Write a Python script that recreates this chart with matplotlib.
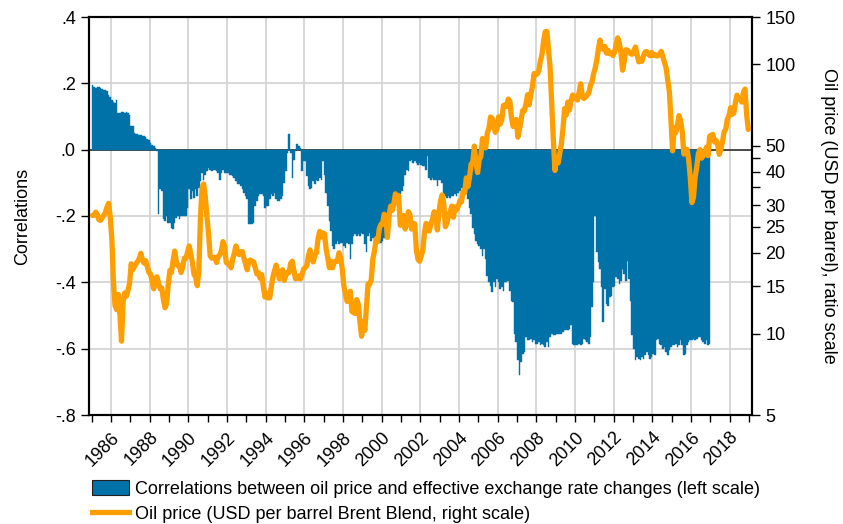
import numpy as np
import matplotlib
matplotlib.use("Agg")
import matplotlib.pyplot as plt
from matplotlib.patches import Patch
from matplotlib.lines import Line2D

plt.rcParams['font.family'] = ['Liberation Sans', 'DejaVu Sans']
plt.rcParams['font.size'] = 13

# 相关系数（月度，1985-01 至 2016-12），每行一年
corr = [
    0.195, 0.19, 0.185, 0.19, 0.188, 0.186, 0.183, 0.18, 0.18, 0.177, 0.165, 0.16,          # 1985
    0.15, 0.145, 0.14, 0.15, 0.11, 0.11, 0.115, 0.115, 0.11, 0.115, 0.11, 0.105,            # 1986
    0.07, 0.07, 0.05, 0.048, 0.046, 0.045, 0.044, 0.042, 0.04, 0.038, 0.033, 0.028,         # 1987
    0.02, 0.015, 0.01, 0.005, -0.005, -0.195, -0.12, -0.125, -0.21, -0.215, -0.2, -0.22,    # 1988
    -0.22, -0.235, -0.24, -0.22, -0.205, -0.2, -0.21, -0.2, -0.2, -0.2, -0.2, -0.175,       # 1989
    -0.12, -0.15, -0.125, -0.145, -0.12, -0.14, -0.115, -0.095, -0.07, -0.09, -0.075, -0.065,  # 1990
    -0.055, -0.06, -0.065, -0.06, -0.06, -0.065, -0.07, -0.09, -0.07, -0.06, -0.07, -0.07,  # 1991
    -0.07, -0.075, -0.075, -0.08, -0.085, -0.095, -0.105, -0.105, -0.11, -0.12, -0.13, -0.14,  # 1992
    -0.15, -0.225, -0.225, -0.225, -0.22, -0.17, -0.155, -0.14, -0.135, -0.135, -0.14, -0.175,  # 1993
    -0.17, -0.17, -0.15, -0.135, -0.14, -0.13, -0.15, -0.155, -0.155, -0.15, -0.14, -0.1,   # 1994
    -0.065, -0.01, 0.046, -0.01, -0.085, -0.03, -0.005, 0.016, 0.012, 0.005, -0.065, -0.035,  # 1995
    -0.035, -0.08, -0.11, -0.12, -0.115, -0.095, -0.105, -0.09, -0.095, -0.085, -0.09, -0.035,  # 1996
    -0.075, -0.13, -0.17, -0.215, -0.245, -0.29, -0.3, -0.285, -0.275, -0.285, -0.28, -0.28,  # 1997
    -0.29, -0.295, -0.28, -0.285, -0.33, -0.285, -0.26, -0.255, -0.26, -0.255, -0.26, -0.25,  # 1998
    -0.255, -0.285, -0.31, -0.26, -0.25, -0.275, -0.265, -0.27, -0.285, -0.275, -0.265, -0.28,  # 1999
    -0.275, -0.265, -0.24, -0.235, -0.21, -0.2, -0.185, -0.16, -0.16, -0.14, -0.135, -0.135,  # 2000
    -0.125, -0.11, -0.075, -0.06, -0.065, -0.035, -0.03, -0.04, -0.035, -0.04, -0.045, -0.04,  # 2001
    -0.045, -0.05, -0.05, -0.06, -0.02, -0.085, -0.09, -0.085, -0.09, -0.09, -0.11, -0.09,  # 2002
    -0.09, -0.1, -0.135, -0.14, -0.145, -0.14, -0.145, -0.14, -0.14, -0.135, -0.14, -0.13,  # 2003
    -0.125, -0.115, -0.115, -0.1, -0.09, -0.15, -0.175, -0.195, -0.235, -0.255, -0.275, -0.285,  # 2004
    -0.29, -0.3, -0.32, -0.3, -0.33, -0.38, -0.4, -0.41, -0.43, -0.4, -0.415, -0.39,        # 2005
    -0.4, -0.42, -0.415, -0.425, -0.4, -0.4, -0.395, -0.425, -0.455, -0.46, -0.555, -0.58,  # 2006
    -0.635, -0.68, -0.64, -0.615, -0.61, -0.565, -0.575, -0.575, -0.57, -0.58, -0.575, -0.585,  # 2007
    -0.585, -0.58, -0.59, -0.585, -0.59, -0.595, -0.58, -0.595, -0.565, -0.555, -0.56, -0.56,  # 2008
    -0.555, -0.555, -0.555, -0.555, -0.55, -0.545, -0.545, -0.545, -0.54, -0.53, -0.585, -0.59,  # 2009
    -0.59, -0.59, -0.585, -0.59, -0.585, -0.57, -0.575, -0.58, -0.585, -0.565, -0.475, -0.4,  # 2010
    -0.2, -0.31, -0.34, -0.36, -0.415, -0.52, -0.42, -0.465, -0.47, -0.445, -0.44, -0.415,  # 2011
    -0.41, -0.385, -0.39, -0.405, -0.395, -0.36, -0.375, -0.395, -0.335, -0.39, -0.455, -0.56,  # 2012
    -0.6, -0.635, -0.625, -0.63, -0.635, -0.625, -0.63, -0.62, -0.61, -0.62, -0.63, -0.625,  # 2013
    -0.615, -0.62, -0.575, -0.57, -0.585, -0.59, -0.6, -0.595, -0.61, -0.62, -0.605, -0.595,  # 2014
    -0.59, -0.59, -0.585, -0.595, -0.59, -0.575, -0.59, -0.62, -0.615, -0.59, -0.58, -0.575,  # 2015
    -0.575, -0.57, -0.575, -0.57, -0.565, -0.565, -0.575, -0.58, -0.585, -0.575, -0.59, -0.585,  # 2016
]

# 布伦特油价（美元/桶，月度，1985-01 至 2018-12）
oil = [
    27.5, 27.6, 28.3, 27.7, 26.5, 26.4, 27.0, 27.5, 28.3, 29.5, 30.5, 27.2,   # 1985
    22.5, 15.5, 12.7, 12.3, 14.0, 11.8, 9.4, 13.2, 14.2, 13.8, 14.5, 15.4,    # 1986
    18.2, 17.3, 17.8, 18.2, 18.6, 19.0, 19.9, 18.8, 18.3, 18.7, 17.8, 16.9,   # 1987
    16.7, 15.7, 14.7, 16.0, 16.3, 15.4, 14.7, 14.8, 13.4, 12.5, 13.0, 15.2,   # 1988
    17.2, 16.9, 18.7, 20.3, 18.6, 17.9, 17.9, 16.9, 17.7, 19.1, 19.1, 20.1,   # 1989
    21.2, 19.7, 18.4, 16.6, 16.3, 15.1, 17.2, 27.2, 34.9, 36.0, 32.3, 27.3,   # 1990
    23.6, 19.5, 19.1, 19.2, 19.2, 18.4, 19.4, 19.6, 20.4, 22.0, 21.1, 18.4,   # 1991
    18.2, 18.1, 17.6, 18.9, 19.9, 21.2, 20.2, 19.7, 20.2, 20.2, 19.1, 18.2,   # 1992
    17.3, 18.6, 18.8, 18.6, 18.5, 17.6, 16.7, 16.9, 16.1, 16.6, 15.0, 13.7,   # 1993
    14.2, 13.6, 13.6, 15.0, 16.3, 17.2, 18.0, 16.9, 16.0, 16.4, 17.3, 15.8,   # 1994
    16.5, 16.9, 16.9, 18.3, 18.6, 17.2, 16.0, 16.1, 16.4, 16.0, 16.6, 17.4,   # 1995
    17.6, 17.9, 19.5, 20.5, 19.0, 18.5, 19.6, 20.0, 22.6, 24.0, 22.9, 23.7,   # 1996
    23.5, 20.6, 19.2, 17.6, 18.6, 17.6, 18.5, 18.6, 18.6, 20.0, 19.2, 17.4,   # 1997
    15.1, 14.0, 13.2, 13.4, 14.4, 12.1, 12.0, 11.9, 13.4, 12.8, 11.0, 9.8,    # 1998
    11.1, 10.3, 12.5, 15.3, 15.3, 15.9, 19.0, 20.3, 22.5, 22.0, 24.6, 25.5,   # 1999
    25.5, 27.8, 27.5, 22.8, 27.3, 29.8, 28.7, 30.4, 33.1, 30.9, 32.6, 25.3,   # 2000
    25.9, 27.5, 24.5, 25.7, 28.4, 27.7, 24.5, 25.7, 25.6, 20.5, 18.9, 18.6,   # 2001
    19.5, 20.4, 23.7, 25.7, 25.4, 24.1, 25.7, 26.6, 28.4, 27.5, 24.3, 28.3,   # 2002
    31.2, 32.8, 30.4, 25.0, 25.8, 27.6, 28.4, 29.8, 27.1, 29.6, 28.8, 29.8,   # 2003
    31.2, 30.9, 33.8, 33.4, 37.9, 35.2, 38.2, 42.7, 43.2, 49.8, 43.1, 39.7,   # 2004
    44.3, 45.5, 53.1, 51.9, 49.0, 55.6, 57.9, 63.8, 63.1, 59.5, 56.0, 57.6,   # 2005
    63.9, 60.0, 62.3, 70.4, 70.8, 69.8, 74.4, 73.0, 63.8, 58.9, 59.1, 62.5,   # 2006
    53.7, 57.6, 62.1, 67.5, 67.2, 71.3, 77.2, 70.8, 77.2, 82.4, 92.5, 91.5,   # 2007
    92.2, 94.9, 103.4, 109.1, 122.8, 132.3, 132.7, 113.2, 97.2, 71.6, 52.5, 40.4,  # 2008
    44.9, 43.1, 46.8, 50.8, 57.9, 68.6, 64.9, 72.5, 67.7, 73.2, 77.0, 74.7,   # 2009
    76.2, 73.8, 78.8, 84.8, 75.9, 74.8, 75.6, 77.1, 78.2, 83.5, 86.1, 92.4,   # 2010
    96.9, 104.0, 114.4, 123.1, 114.5, 113.9, 116.7, 110.1, 112.8, 109.6, 110.5, 107.9,  # 2011
    110.7, 119.3, 125.5, 119.8, 110.3, 95.2, 102.6, 113.4, 113.0, 111.5, 109.5, 109.2,  # 2012
    112.3, 116.1, 108.5, 102.3, 102.6, 102.9, 107.9, 111.3, 111.6, 109.1, 107.8, 110.8,  # 2013
    108.1, 108.9, 107.5, 107.8, 109.5, 111.8, 106.8, 101.6, 97.1, 87.4, 79.4, 62.3,  # 2014
    47.8, 58.1, 55.9, 59.5, 64.6, 61.7, 56.5, 46.5, 47.6, 48.4, 44.3, 38.0,   # 2015
    30.7, 32.2, 38.2, 41.6, 46.7, 48.3, 44.9, 45.8, 46.6, 49.3, 45.9, 54.1,   # 2016
    54.6, 55.0, 51.6, 52.3, 50.3, 46.4, 48.5, 51.7, 56.2, 57.5, 62.7, 64.4,   # 2017
    69.1, 65.3, 66.0, 72.1, 76.9, 74.4, 74.3, 72.5, 78.9, 81.0, 64.8, 57.4,   # 2018
]

corr_start = 1985
oil_start = 1985
year_ticks = list(range(1986, 2019, 2))
left_ticks = [0.4, 0.2, 0.0, -0.2, -0.4, -0.6, -0.8]
right_ticks = [5, 10, 15, 20, 25, 30, 35, 40, 45, 50, 100, 150]
right_labels = ['5', '10', '15', '20', '25', '30', '', '40', '', '50', '100', '150']

bar_color = '#0072A7'
oil_color = '#FF9E00'

t_corr = corr_start + np.arange(len(corr)) / 12
t_oil = oil_start + (np.arange(len(oil)) + 0.5) / 12

fig = plt.figure(figsize=(8.43, 5.24), dpi=100)
ax = fig.add_axes([89 / 843, 1 - 415 / 524, (752 - 89) / 843, (415 - 17) / 524])

ax.bar(t_corr, corr, width=1 / 12, align='edge', color=bar_color,
       edgecolor=bar_color, linewidth=0.3, zorder=3)
ax.axhline(0, color='#333333', lw=1.2, zorder=2)

ax.set_xlim(1984.86, 2019.15)
ax.set_ylim(-0.8, 0.4)
ax.set_yticks(left_ticks)
ax.set_yticklabels([f"{v:.1f}".replace('0.', '.') for v in left_ticks])
ax.set_xticks(year_ticks)
ax.set_xticklabels([str(y) for y in year_ticks], rotation=45, ha='right',
                   rotation_mode='anchor')
ax.set_xticks(range(1985, 2020), minor=True)
ax.grid(True, which='major', color='#D4D4D4', lw=1.3, zorder=0)
ax.set_axisbelow(True)
ax.tick_params(axis='x', which='both', length=5, width=1, pad=5)
ax.tick_params(axis='y', length=6, width=1)
ax.set_ylabel('Correlations', labelpad=17)
for s in ax.spines.values():
    s.set_linewidth(1.5)

ax2 = ax.twinx()
ax2.plot(t_oil, oil, color=oil_color, lw=3.8, solid_capstyle='round',
         solid_joinstyle='round')
ax2.set_yscale('log')
ax2.set_ylim(5, 150)
ax2.set_yticks(right_ticks)
ax2.set_yticklabels(right_labels)
ax2.yaxis.set_minor_locator(matplotlib.ticker.NullLocator())
ax2.tick_params(axis='y', length=6, width=1)
ax2.set_ylabel('Oil price (USD per barrel), ratio scale', rotation=-90,
               labelpad=30)
for s in ax2.spines.values():
    s.set_linewidth(1.5)

handles = [
    Patch(facecolor=bar_color, edgecolor='#222222', linewidth=0.8),
    Line2D([0], [0], color=oil_color, lw=3.8),
]
labels = [
    'Correlations between oil price and effective exchange rate changes (left scale)',
    'Oil price (USD per barrel Brent Blend, right scale)',
]
fig.legend(handles, labels, loc='upper left', bbox_to_anchor=(92 / 843, 1 - 480 / 524),
           frameon=False, handlelength=2.05, handleheight=0.9, handletextpad=0.35,
           labelspacing=0.4, borderaxespad=0, borderpad=0)

fig.savefig('out.png', dpi=100)
